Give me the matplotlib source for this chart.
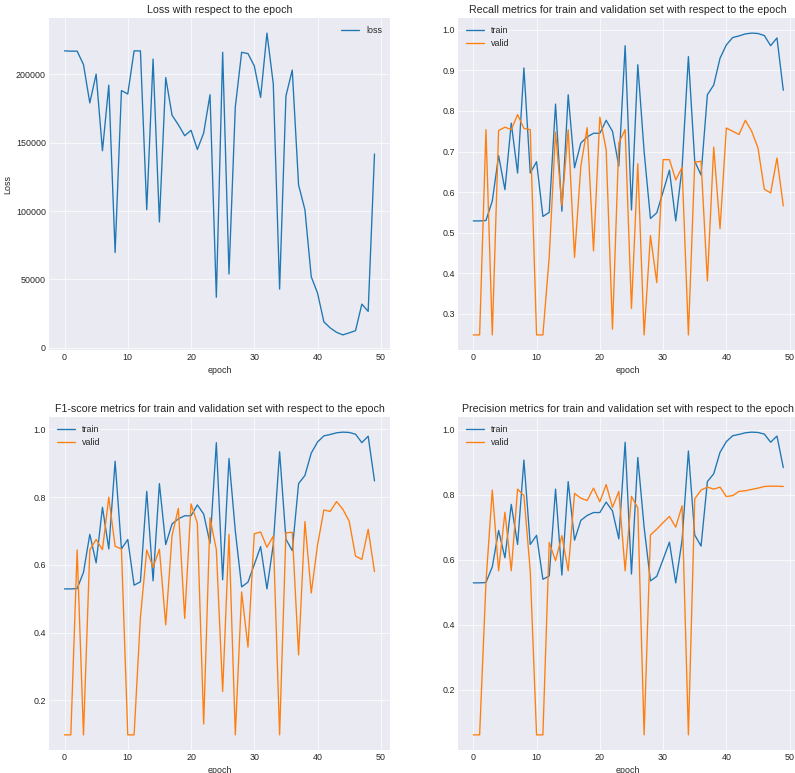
import matplotlib
matplotlib.use("Agg")
import matplotlib.pyplot as plt

plt.style.use("seaborn-v0_8-darkgrid")
plt.rcParams['font.family'] = ['Liberation Sans', 'DejaVu Sans']

epochs = list(range(50))

loss = [217000, 216800, 216800, 207000, 179000, 200000, 144000, 192000, 69700, 188000,
        185500, 217000, 217000, 101000, 211000, 92000, 197500, 170000, 163000, 155000,
        159000, 145000, 157000, 185000, 37000, 216000, 54000, 176000, 216000, 215000,
        206000, 183000, 230000, 193000, 43000, 184000, 203000, 119000, 101000, 52000,
        40000, 19000, 14600, 11400, 9500, 11000, 12600, 32000, 26700, 141700]

recall_train = [0.529, 0.529, 0.530, 0.578, 0.690, 0.606, 0.770, 0.647, 0.906, 0.647,
                0.675, 0.540, 0.550, 0.817, 0.553, 0.840, 0.660, 0.721, 0.736, 0.745,
                0.745, 0.777, 0.750, 0.664, 0.961, 0.556, 0.914, 0.700, 0.535, 0.549,
                0.601, 0.654, 0.529, 0.660, 0.934, 0.676, 0.642, 0.840, 0.864, 0.930,
                0.963, 0.981, 0.985, 0.990, 0.992, 0.991, 0.986, 0.961, 0.980, 0.851]
recall_valid = [0.248, 0.248, 0.754, 0.248, 0.752, 0.760, 0.754, 0.791, 0.757, 0.754,
                0.248, 0.248, 0.440, 0.748, 0.566, 0.754, 0.439, 0.664, 0.759, 0.455,
                0.785, 0.705, 0.262, 0.721, 0.754, 0.313, 0.670, 0.248, 0.493, 0.377,
                0.680, 0.680, 0.630, 0.661, 0.248, 0.674, 0.676, 0.381, 0.711, 0.510,
                0.758, 0.750, 0.742, 0.777, 0.750, 0.709, 0.607, 0.598, 0.684, 0.566]

f1_train = [0.529, 0.529, 0.530, 0.578, 0.690, 0.606, 0.770, 0.647, 0.906, 0.647,
            0.675, 0.540, 0.550, 0.817, 0.553, 0.840, 0.660, 0.721, 0.736, 0.745,
            0.745, 0.777, 0.750, 0.664, 0.961, 0.556, 0.914, 0.700, 0.535, 0.549,
            0.601, 0.654, 0.529, 0.660, 0.934, 0.676, 0.642, 0.840, 0.864, 0.930,
            0.963, 0.981, 0.985, 0.990, 0.992, 0.991, 0.986, 0.961, 0.980, 0.848]
f1_valid = [0.098, 0.098, 0.644, 0.098, 0.644, 0.675, 0.645, 0.800, 0.655, 0.647,
            0.098, 0.098, 0.445, 0.644, 0.593, 0.646, 0.423, 0.687, 0.767, 0.442,
            0.780, 0.723, 0.130, 0.739, 0.645, 0.226, 0.690, 0.098, 0.520, 0.357,
            0.692, 0.697, 0.652, 0.685, 0.098, 0.695, 0.696, 0.334, 0.728, 0.517,
            0.659, 0.762, 0.758, 0.787, 0.764, 0.729, 0.626, 0.616, 0.705, 0.580]

precision_train = [0.529, 0.529, 0.530, 0.578, 0.690, 0.606, 0.770, 0.647, 0.906, 0.647,
                   0.675, 0.540, 0.550, 0.817, 0.553, 0.840, 0.660, 0.721, 0.736, 0.745,
                   0.745, 0.777, 0.750, 0.664, 0.961, 0.556, 0.914, 0.700, 0.535, 0.549,
                   0.601, 0.654, 0.529, 0.660, 0.934, 0.676, 0.642, 0.840, 0.864, 0.930,
                   0.963, 0.981, 0.985, 0.990, 0.992, 0.991, 0.986, 0.961, 0.980, 0.883]
precision_valid = [0.062, 0.062, 0.530, 0.814, 0.566, 0.746, 0.566, 0.817, 0.797, 0.566,
                   0.062, 0.062, 0.653, 0.597, 0.674, 0.566, 0.804, 0.789, 0.782, 0.820,
                   0.778, 0.831, 0.761, 0.810, 0.566, 0.795, 0.759, 0.062, 0.676, 0.694,
                   0.714, 0.733, 0.700, 0.766, 0.062, 0.787, 0.814, 0.823, 0.817, 0.823,
                   0.794, 0.797, 0.810, 0.812, 0.816, 0.820, 0.825, 0.826, 0.826, 0.825]

W, H = 795, 773
fig = plt.figure(figsize=(W / 64, H / 64), dpi=64)

def frac(left, top, right, bottom):
    return [left / W, 1 - bottom / H, (right - left) / W, (bottom - top) / H]

ax1 = fig.add_axes(frac(49, 18, 390, 350))
ax2 = fig.add_axes(frac(457.8, 18, 798.8, 350))
ax3 = fig.add_axes(frac(49, 417, 390, 750))
ax4 = fig.add_axes(frac(457.8, 417, 798.8, 750))

ax1.plot(epochs, loss, label="loss")
ax1.set_title("Loss with respect to the epoch")
ax1.set_xlabel("epoch")
ax1.set_ylabel("Loss")
ax1.legend(loc="upper right")

panels = [
    (ax2, recall_train, recall_valid, "Recall metrics for train and validation set with respect to the epoch"),
    (ax3, f1_train, f1_valid, "F1-score metrics for train and validation set with respect to the epoch"),
    (ax4, precision_train, precision_valid, "Precision metrics for train and validation set with respect to the epoch"),
]
for ax, tr, va, title in panels:
    ax.plot(epochs, tr, label="train")
    ax.plot(epochs, va, label="valid")
    ax.set_title(title)
    ax.set_xlabel("epoch")
    ax.legend(loc="upper left")

fig.savefig("out.png", dpi=64)
